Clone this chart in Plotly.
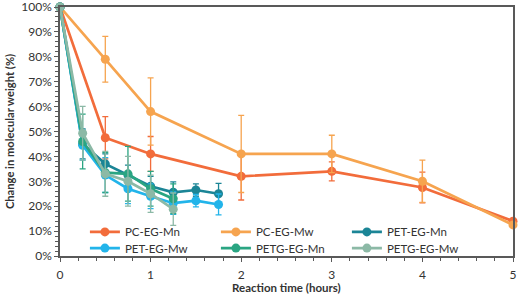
import plotly.graph_objects as go

# ---- data (percent of initial molecular weight) ----
pc_time = [0, 0.5, 1, 2, 3, 4, 5]
pc_mn = [100, 47.5, 41, 32, 34, 27.5, 14]
pc_mn_err = [0, 8.5, 7, 9.5, 3.8, 6.2, 0]
pc_mw = [100, 79, 58, 41, 41, 30, 12.5]
pc_mw_err = [0, 9.2, 13.5, 15.5, 7.5, 8.5, 0]

pet_time = [0, 0.25, 0.5, 0.75, 1, 1.25, 1.5, 1.75]
pet_mn = [100, 45, 37, 32.5, 28, 25.6, 26.5, 25]
pet_mn_err = [0, 6, 4, 4, 4, 4.2, 2.5, 4.2]
pet_mw = [100, 44.5, 32.5, 27, 24, 21.2, 22.2, 20.7]
pet_mw_err = [0, 6, 7, 6, 5, 4.5, 2.5, 4.2]

petg_time = [0, 0.25, 0.5, 0.75, 1, 1.25]
petg_mn = [100, 46, 33.5, 33, 27, 23]
petg_mn_err = [0, 11, 8, 11, 7, 6]
petg_mw = [100, 49.3, 33, 30, 25, 18.8]
petg_mw_err = [0, 10.8, 9, 10, 7.5, 6.5]

series = [
    ("PC-EG-Mn", pc_time, pc_mn, pc_mn_err, "#F26C3B", "legend"),
    ("PC-EG-Mw", pc_time, pc_mw, pc_mw_err, "#F6A44F", "legend"),
    ("PET-EG-Mn", pet_time, pet_mn, pet_mn_err, "#1B8596", "legend"),
    ("PET-EG-Mw", pet_time, pet_mw, pet_mw_err, "#22B4EA", "legend2"),
    ("PETG-EG-Mn", petg_time, petg_mn, petg_mn_err, "#2AA582", "legend2"),
    ("PETG-EG-Mw", petg_time, petg_mw, petg_mw_err, "#8CB9A6", "legend2"),
]

y_ticks = list(range(0, 101, 10))
y_labels = [f"{v}%" for v in y_ticks]
x_ticks = [0, 1, 2, 3, 4, 5]
x_title = "Reaction time (hours)"
y_title = "Change in molecular weight (%)"

FONT = "Lato"
AX = "#595959"
TXT = "#333333"

fig = go.Figure()
for name, x, y, err, col, lg in series:
    fig.add_trace(go.Scatter(
        x=x, y=y, name=name, mode="lines+markers", legend=lg,
        line=dict(color=col, width=2.7),
        marker=dict(color=col, size=9, symbol="circle"),
        error_y=dict(type="data", array=err, visible=True, color=col,
                     thickness=1.3, width=3),
        cliponaxis=False,
    ))

legend_common = dict(
    orientation="h", xanchor="left", yanchor="top",
    entrywidth=86, entrywidthmode="pixels",
    bgcolor="rgba(0,0,0,0)", font=dict(family=FONT, size=11.5, color=TXT),
    tracegroupgap=0, itemwidth=30,
)

fig.update_layout(
    width=520, height=296,
    margin=dict(l=60, r=7, t=7, b=40),
    paper_bgcolor="white", plot_bgcolor="white",
    font=dict(family=FONT, size=12, color=TXT),
    showlegend=True,
    legend=dict(x=0.055, y=0.155, **legend_common),
    legend2=dict(x=0.055, y=0.09, **legend_common),
    xaxis=dict(
        range=[0, 5], tickvals=x_ticks, ticktext=[str(v) for v in x_ticks],
        showgrid=False, zeroline=False, automargin=False, ticklabeloverflow="allow",
        showline=True, linecolor=AX, linewidth=1.5, mirror=True,
        ticks="outside", ticklen=4, tickcolor=AX, ticklabelstandoff=3,
        minor=dict(dtick=0.2, ticks="outside", ticklen=3, tickcolor=AX, showgrid=False),
        tickfont=dict(family=FONT, size=12, color=TXT),
    ),
    yaxis=dict(
        range=[0, 100], tickvals=y_ticks, ticktext=y_labels,
        showgrid=False, zeroline=False, automargin=False, ticklabeloverflow="allow",
        showline=True, linecolor=AX, linewidth=1.5, mirror=True,
        ticks="outside", ticklen=4, tickcolor=AX,
        minor=dict(dtick=2, ticks="outside", ticklen=3, tickcolor=AX, showgrid=False),
        tickfont=dict(family=FONT, size=12, color=TXT),
        title=dict(text=f"<b>{y_title}</b>", font=dict(family=FONT, size=11.2, color=TXT), standoff=4),
    ),
    annotations=[dict(
        text=f"<b>{x_title}</b>", xref="paper", yref="paper", x=0.5, y=-0.126,
        xanchor="center", yanchor="middle", showarrow=False,
        font=dict(family=FONT, size=11.5, color=TXT),
    )],
)

fig.write_html("out.html", config={"displayModeBar": False},
               post_script="document.body.style.margin='0';")
